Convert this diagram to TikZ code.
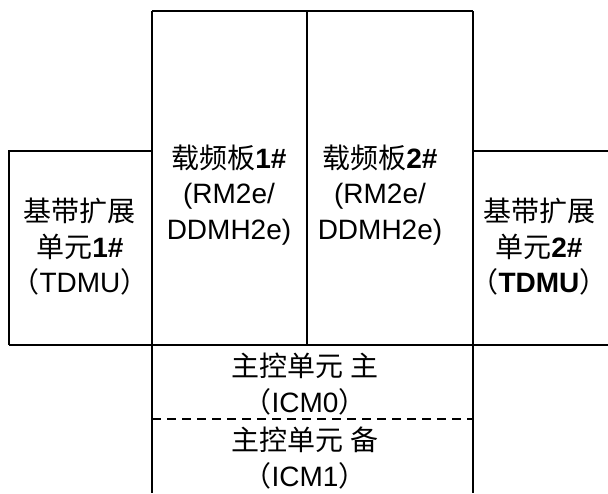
\documentclass[tikz,border=0pt]{standalone}
\usepackage{fontspec}
\setmainfont{Liberation Sans}
\newfontfamily\cjk{Noto Sans CJK SC}
\begin{document}
\begin{tikzpicture}[x=1pt,y=-1pt,line width=1.2pt]
% Estilos
\tikzset{box text/.style={align=center,inner sep=0pt,font=\fontsize{28}{35.5}\selectfont},
         split line/.style={dashed,dash pattern=on 9pt off 6pt}}
\useasboundingbox (0,0) rectangle (608,493);

% Cantos
\coordinate (lt) at (9,151);   \coordinate (lb) at (9,345);
\coordinate (ct) at (152,11);  \coordinate (cb) at (152,493);
\coordinate (mt) at (307,11);  \coordinate (mb) at (307,345);
\coordinate (rt) at (473,11);  \coordinate (rb) at (473,493);
\coordinate (et) at (608,151); \coordinate (eb) at (608,345);
\coordinate (dl) at (152,419); \coordinate (dr) at (473,419);

\draw (ct) -- (rt) (ct) -- (cb) (mt) -- (mb) (rt) -- (rb);
\draw (lb) -- (lt) -- (lt -| ct) (lb) -- (eb) (rt |- et) -- (et);
\draw[split line] (dl) -- (dr);

% Textos
\node[box text] (tdmu1) at (80,247) {{\cjk 基带扩展}\\{\cjk 单元}\textbf{1\#}\\{\cjk （}TDMU{\cjk ）}};
\node[box text] (rm1) at (229,195) {{\cjk 载频板}\textbf{1\#}\\(RM2e/\\DDMH2e)};
\node[box text] (rm2) at (380,195) {{\cjk 载频板}\textbf{2\#}\\(RM2e/\\DDMH2e)};
\node[box text] (tdmu2) at (539,247) {{\cjk 基带扩展}\\{\cjk 单元}\textbf{2\#}\\{\cjk （}\textbf{TDMU}{\cjk ）}};
\node[box text] (icm0) at (305,384) {{\cjk 主控单元 主}\\{\cjk （}ICM0{\cjk ）}};
\node[box text] (icm1) at (305,458) {{\cjk 主控单元 备}\\{\cjk （}ICM1{\cjk ）}};

\end{tikzpicture}
\end{document}
